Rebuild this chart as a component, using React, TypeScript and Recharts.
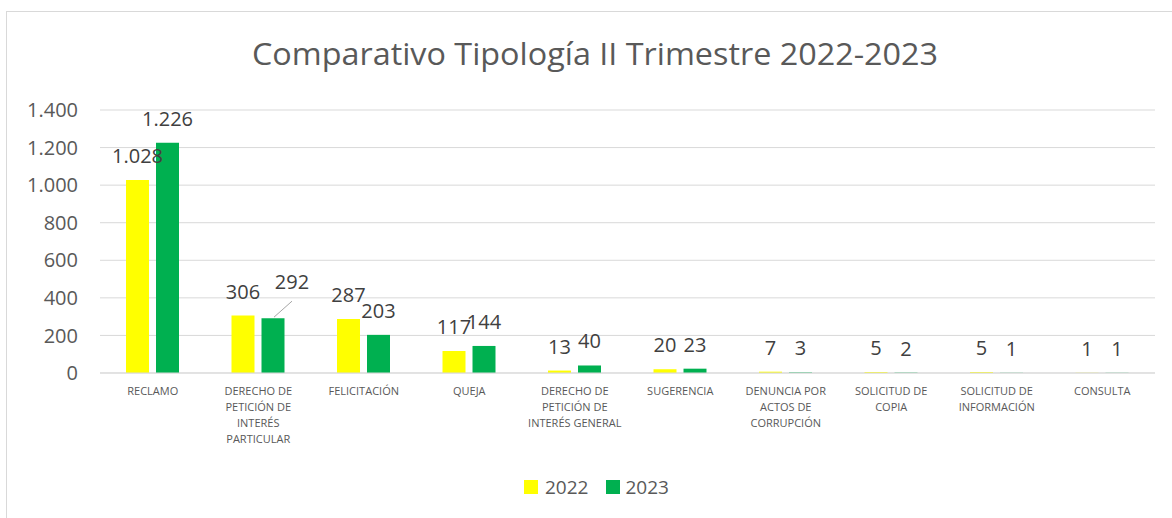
import React from 'react';
import { BarChart, Bar, XAxis, YAxis, CartesianGrid, LabelList } from 'recharts';

const categories = [
  'RECLAMO',
  'DERECHO DE PETICIÓN DE INTERÉS PARTICULAR',
  'FELICITACIÓN',
  'QUEJA',
  'DERECHO DE PETICIÓN DE INTERÉS GENERAL',
  'SUGERENCIA',
  'DENUNCIA POR ACTOS DE CORRUPCIÓN',
  'SOLICITUD DE COPIA',
  'SOLICITUD DE INFORMACIÓN',
  'CONSULTA',
];

const tickLines = [
  ['RECLAMO'],
  ['DERECHO DE', 'PETICIÓN DE', 'INTERÉS', 'PARTICULAR'],
  ['FELICITACIÓN'],
  ['QUEJA'],
  ['DERECHO DE', 'PETICIÓN DE', 'INTERÉS GENERAL'],
  ['SUGERENCIA'],
  ['DENUNCIA POR', 'ACTOS DE', 'CORRUPCIÓN'],
  ['SOLICITUD DE', 'COPIA'],
  ['SOLICITUD DE', 'INFORMACIÓN'],
  ['CONSULTA'],
];

const values2022 = [1028, 306, 287, 117, 13, 20, 7, 5, 5, 1];
const values2023 = [1226, 292, 203, 144, 40, 23, 3, 2, 1, 1];

const yTicks = [0, 200, 400, 600, 800, 1000, 1200, 1400];

const seriesNames = ['2022', '2023'];
const seriesColors = ['#FFFF00', '#00B050'];

const title = 'Comparativo Tipología II Trimestre 2022-2023';

const data = categories.map((c, i) => ({
  category: c,
  y2022: values2022[i],
  y2023: values2023[i],
}));

const FONT = '"Open Sans", sans-serif';

const fmt = (v: number) => String(v).replace(/\B(?=(\d{3})+(?!\d))/g, '.');

const XTick = (props: any) => {
  const { x, y, payload } = props;
  const idx = categories.indexOf(payload.value);
  const lines = tickLines[idx] || [payload.value];
  return (
    <text x={x} y={y} textAnchor="middle" fill="#595959" fontSize={11} fontFamily={FONT}>
      {lines.map((l, i) => (
        <tspan key={i} x={x} dy={i === 0 ? 14 : 16}>
          {l}
        </tspan>
      ))}
    </text>
  );
};

const makeLabel = (series: string) => (props: any) => {
  const { x, y, width, value, index } = props;
  const cx = Number(x) + Number(width) / 2;
  const top = Number(y);
  if (series === '2023' && index === 1) {
    return (
      <g>
        <line x1={cx + 1} y1={top - 1} x2={cx + 19} y2={top - 17} stroke="#a6a6a6" strokeWidth={1} />
        <text x={cx + 19} y={top - 29} textAnchor="middle" fontSize={20} fill="#404040" fontFamily={FONT}>
          {fmt(value)}
        </text>
      </g>
    );
  }
  return (
    <text x={cx} y={top - 17} textAnchor="middle" fontSize={20} fill="#404040" fontFamily={FONT}>
      {fmt(value)}
    </text>
  );
};

export default function App() {
  return (
    <div
      style={{
        position: 'fixed',
        left: 0,
        top: 0,
        width: 1172,
        height: 518,
        overflow: 'hidden',
        background: '#fff',
        fontFamily: FONT,
      }}
    >
      <div
        style={{
          position: 'absolute',
          left: 6,
          top: 11,
          width: 1250,
          height: 600,
          border: '1px solid #d9d9d9',
        }}
      />
      <svg style={{ position: 'absolute', left: 0, top: 0 }} width={1172} height={100}>
        <text
          x={595}
          y={65}
          textAnchor="middle"
          fontSize={31}
          textLength={686}
          lengthAdjust="spacingAndGlyphs"
          fill="#595959"
          fontFamily={FONT}
        >
          {title}
        </text>
      </svg>
      <div style={{ position: 'absolute', left: 0, top: 0 }}>
        <BarChart
          width={1172}
          height={518}
          data={data}
          margin={{ top: 110, right: 17, bottom: 0, left: 0 }}
          barSize={23}
          barGap={7}
        >
          <CartesianGrid vertical={false} stroke="#d9d9d9" />
          <XAxis
            dataKey="category"
            height={145}
            interval={0}
            tickLine={false}
            axisLine={{ stroke: '#d9d9d9' }}
            tick={<XTick />}
          />
          <YAxis
            width={100}
            domain={[0, 1400]}
            ticks={yTicks}
            tickLine={false}
            axisLine={false}
            tickMargin={16}
            tickFormatter={fmt}
            tick={{ fill: '#595959', fontSize: 20, fontFamily: FONT }}
          />
          <Bar dataKey="y2022" name={seriesNames[0]} fill={seriesColors[0]} isAnimationActive={false}>
            <LabelList dataKey="y2022" content={makeLabel('2022')} />
          </Bar>
          <Bar dataKey="y2023" name={seriesNames[1]} fill={seriesColors[1]} isAnimationActive={false}>
            <LabelList dataKey="y2023" content={makeLabel('2023')} />
          </Bar>
        </BarChart>
      </div>
      <div
        style={{
          position: 'absolute',
          left: 524,
          top: 474,
          display: 'flex',
          alignItems: 'center',
          height: 26,
          color: '#595959',
          fontSize: 19,
        }}
      >
        {seriesNames.map((n, i) => (
          <div key={n} style={{ display: 'flex', alignItems: 'center', marginRight: i === 0 ? 18 : 0 }}>
            <div style={{ width: 14, height: 14, background: seriesColors[i], marginRight: i === 0 ? 7 : 5 }} />
            <span>{n}</span>
          </div>
        ))}
      </div>
    </div>
  );
}
